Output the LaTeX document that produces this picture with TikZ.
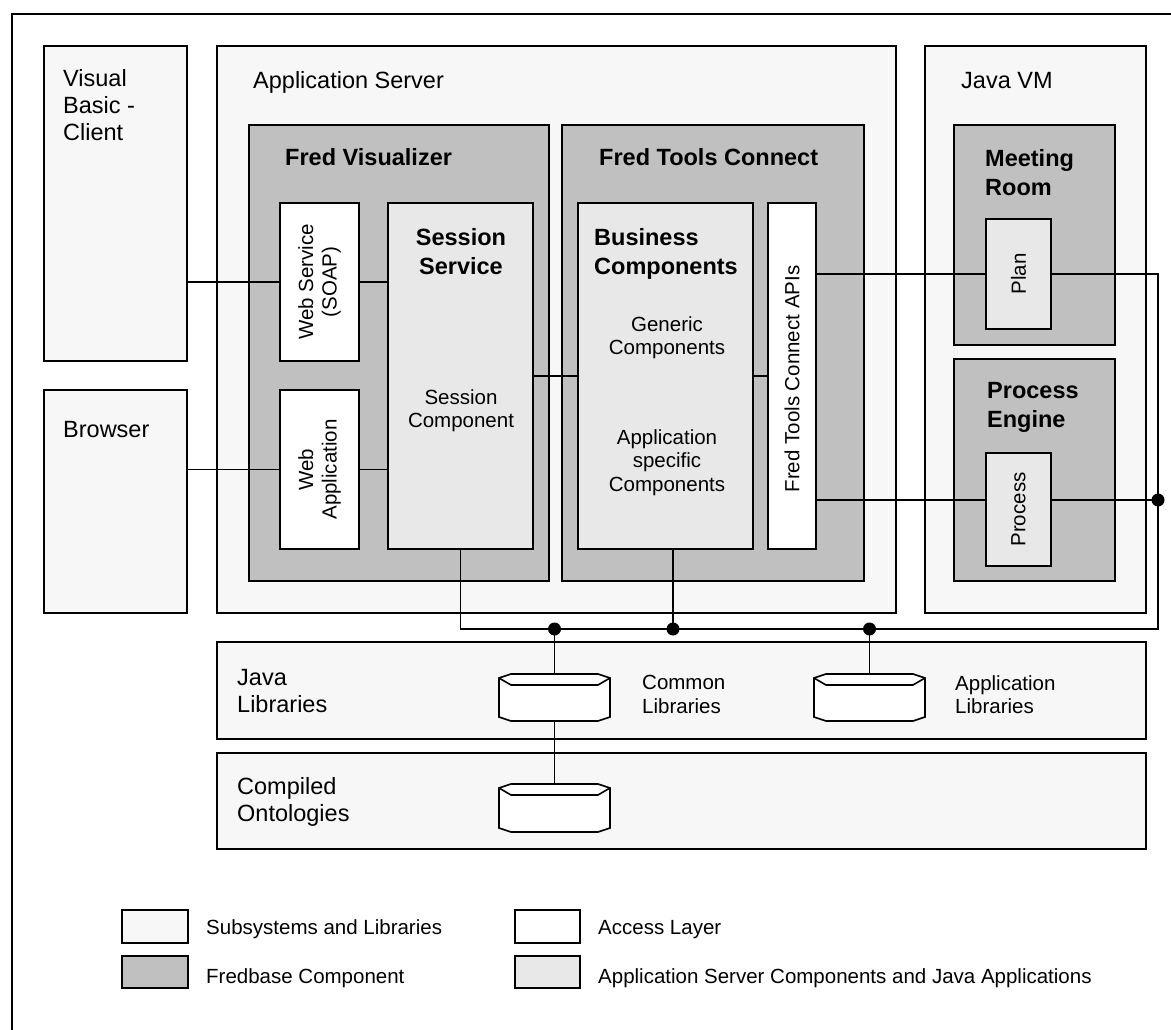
\documentclass[tikz,border=0pt]{standalone}
\usepackage{fontspec}
\setmainfont{Liberation Sans}
\usetikzlibrary{calc}
\definecolor{subsys}{HTML}{F7F7F7}
\definecolor{fredbase}{HTML}{C0C0C0}
\definecolor{appcomp}{HTML}{E8E8E8}

\begin{document}
\begin{tikzpicture}[x=1pt, y=-1pt,
  box/.style={draw, line width=2pt, inner sep=0pt, outer sep=0pt, anchor=north west},
  subbox/.style={box, fill=subsys},
  fredbox/.style={box, fill=fredbase},
  compbox/.style={box, fill=appcomp},
  accbox/.style={box, fill=white},
  drum/.style={inner sep=0pt, outer sep=0pt, anchor=north west, minimum width=111},
  wire/.style={line width=1.6pt},
  dot/.style={circle, fill=black, inner sep=0pt, minimum size=13pt},
  big/.style={inner sep=0pt, align=left, font=\fontsize{23.5}{27}\selectfont},
  ttl/.style={inner sep=0pt, align=left, font=\fontsize{23.5}{29}\selectfont\bfseries},
  sml/.style={inner sep=0pt, align=center, font=\fontsize{20.5}{23.5}\selectfont},
  ]

	\useasboundingbox (0,0) rectangle (1171,1030);
	\fill[white] (0,0) rectangle (1171,1030);
	\clip (0,0) rectangle (1171,1030);
	\draw[line width=2pt] (12,14) rectangle (1190,1050); % frame, cut by the page

	% subsystems
	\node[subbox, minimum width=143, minimum height=315] (vb) at (44,46) {};
	\node[subbox, minimum width=143, minimum height=223] (br) at (44,390) {};
	\node[subbox, minimum width=679, minimum height=567] (as) at (217,46) {};
	\node[subbox, minimum width=221, minimum height=567] (jvm) at (925,46) {};
	\node[subbox, minimum width=929, minimum height=97] (jl) at (217,642) {};
	\node[subbox, minimum width=929, minimum height=96] (co) at (217,753) {};

	% fredbase components
	\node[fredbox, minimum width=300, minimum height=456] (fv) at (249,125) {};
	\node[fredbox, minimum width=302, minimum height=456] (ftc) at (562,125) {};
	\node[fredbox, minimum width=161, minimum height=220] (mr) at (954,125) {};
	\node[fredbox, minimum width=161, minimum height=222] (pe) at (954,359) {};

	% access layer and server components
	\node[accbox, minimum width=79, minimum height=158] (ws) at (280,203) {};
	\node[accbox, minimum width=79, minimum height=159] (wa) at (280,390) {};
	\node[compbox, minimum width=145, minimum height=346] (ss) at (388,203) {};
	\node[compbox, minimum width=175, minimum height=346] (bc) at (578,203) {};
	\node[accbox, minimum width=48, minimum height=346] (api) at (768,203) {};
	\node[compbox, minimum width=65, minimum height=110] (plan) at (986,219) {};
	\node[compbox, minimum width=65, minimum height=113] (proc) at (986,453) {};

	% library drums
	\node[drum, minimum height=47] (comlib) at (499,674) {};
	\node[drum, minimum height=47] (applib) at (814,674) {};
	\node[drum, minimum height=48] (ontlib) at (499,784) {};
	\foreach \d in {comlib,applib,ontlib} {
		\draw[wire, fill=white] ($(\d.north west)+(0,4)$) -- ($(\d.north west)+(12,0)$) -- ($(\d.north east)+(-12,0)$) -- ($(\d.north east)+(0,4)$)
			-- ($(\d.south east)+(0,-4)$) -- ($(\d.south east)+(-12,0)$) -- ($(\d.south west)+(12,0)$) -- ($(\d.south west)+(0,-4)$) -- cycle;
		\draw[wire] ($(\d.north west)+(0,4)$) -- ($(\d.north west)+(12,11)$) -- ($(\d.north east)+(-12,11)$) -- ($(\d.north east)+(0,4)$);
	}

	% legend
	\node[subbox, minimum width=66, minimum height=33] (lg1) at (122,910) {};
	\node[fredbox, minimum width=66, minimum height=32] (lg2) at (122,956) {};
	\node[accbox, minimum width=65, minimum height=33] (lg3) at (515,910) {};
	\node[compbox, minimum width=65, minimum height=32] (lg4) at (515,956) {};

	% connections
	\coordinate (busR) at (1158,629);
	\draw[wire] (ws.west) -- (ws.west -| vb.east);
	\draw[wire] (ws.east) -- (ws.east -| ss.west);
	\draw[wire] (wa.west) -- (wa.west -| br.east);
	\draw[wire] (wa.east) -- (wa.east -| ss.west);
	\draw[wire] (ss.east) -- (bc.west);
	\draw[wire] (bc.east) -- (api.west);
	\draw[wire] (plan.west) -- (plan.west -| api.east);
	\draw[wire] ([yshift=9.5pt]proc.west) -- ([yshift=9.5pt]proc.west -| api.east);
	\draw[wire] (ss.south) |- (busR) |- (plan.east); % common bus
	\draw[wire] ([yshift=9.5pt]proc.east) -- ([yshift=9.5pt]proc.east -| busR) node[dot] (d1) {};
	\draw[wire] ([xshift=7.5pt]bc.south) -- ([xshift=7.5pt]bc.south |- busR) node[dot] (d2) {};
	\draw[wire] (comlib.north) -- (comlib.north |- busR) node[dot] (d3) {};
	\draw[wire] (applib.north) -- (applib.north |- busR) node[dot] (d4) {};
	\draw[wire] (comlib.south) -- (ontlib.north);

	% texts
	\node[big, anchor=north west] (vb-txt) at (63,69) {Visual\\Basic -\\Client};
	\node[big, anchor=base west] (br-txt) at (63,437) {Browser};
	\node[big, anchor=base west] (as-txt) at (253,89) {Application Server};
	\node[big, anchor=base west] (jvm-txt) at (961,89) {Java VM};
	\node[ttl, anchor=base west] (fv-txt) at (285,166) {Fred Visualizer};
	\node[ttl, anchor=base west] (ftc-txt) at (599,166) {Fred Tools Connect};
	\node[ttl, anchor=north west] (mr-txt) at (985,149) {Meeting\\Room};
	\node[ttl, anchor=north west] (pe-txt) at (987,382) {Process\\Engine};
	\node[ttl, align=center, anchor=north] (ss-txt) at (461,228) {Session\\Service};
	\node[ttl, anchor=north west] (bc-txt) at (594,228) {Business\\Components};
	\node[sml, anchor=north] (sc-txt) at (461,389) {Session\\Component};
	\node[sml, anchor=north] (gc-txt) at (667,316) {Generic\\Components};
	\node[sml, anchor=north] (ac-txt) at (667,429) {Application\\specific\\Components};
	\node[sml, rotate=90] (ws-txt) at (ws.center) {Web Service\\(SOAP)};
	\node[sml, rotate=90] (wa-txt) at (wa.center) {Web\\Application};
	\node[sml, rotate=90] (api-txt) at ([yshift=-3pt]api.center) {Fred Tools Connect APIs};
	\node[sml, rotate=90] (plan-txt) at (plan.center) {Plan};
	\node[sml, rotate=90] (proc-txt) at (proc.center) {Process};
	\node[big, anchor=north west] (jl-txt) at (237,669) {Java\\Libraries};
	\node[big, anchor=north west] (co-txt) at (237,777) {Compiled\\Ontologies};
	\node[sml, align=left, anchor=north west] (cl-txt) at (642,675) {Common\\Libraries};
	\node[sml, align=left, anchor=north west] (al-txt) at (955,675) {Application\\Libraries};
	\node[sml, anchor=base west] (lg1-txt) at (206,934) {Subsystems and Libraries};
	\node[sml, anchor=base west] (lg2-txt) at (206,983) {Fredbase Component};
	\node[sml, anchor=base west] (lg3-txt) at (598,934) {Access Layer};
	\node[sml, anchor=base west] (lg4-txt) at (598,983) {Application Server Components and Java Applications};

\end{tikzpicture}
\end{document}
